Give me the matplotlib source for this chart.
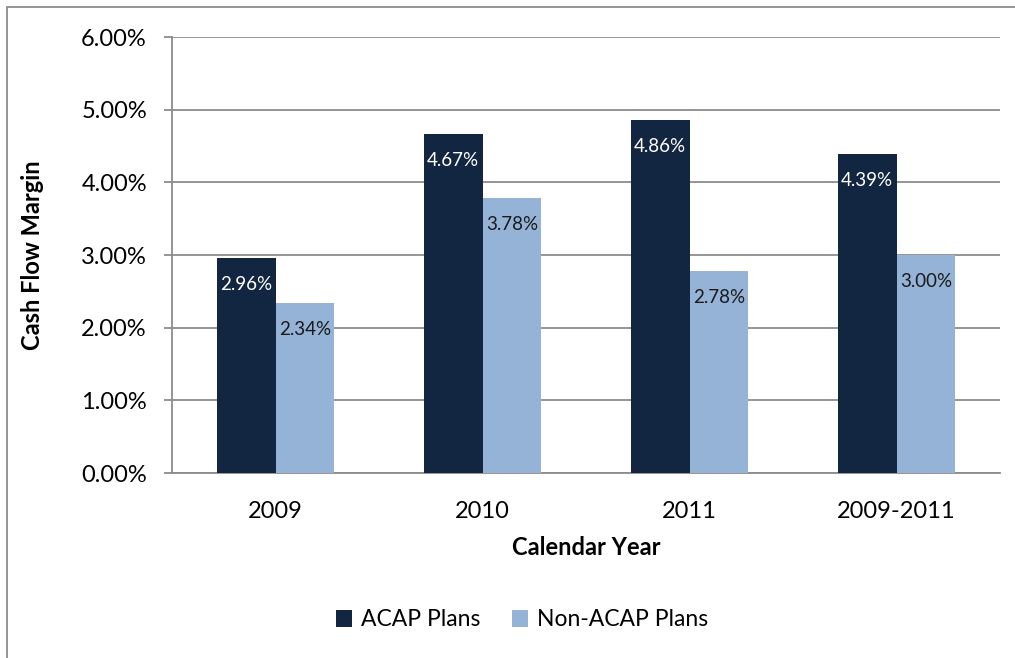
import matplotlib.pyplot as plt
from matplotlib.patches import Rectangle
import numpy as np

plt.rcParams['font.family'] = ['Lato', 'DejaVu Sans']

years = ["2009", "2010", "2011", "2009-2011"]
acap = [2.96, 4.67, 4.86, 4.39]
non_acap = [2.34, 3.78, 2.78, 3.00]
series_names = ["ACAP Plans", "Non-ACAP Plans"]
colors = ["#132641", "#95b3d7"]
label_colors = ["white", "#1a1a1a"]

fig = plt.figure(figsize=(10.15, 6.58), dpi=100)
ax = fig.add_axes([172 / 1015, 1 - 473 / 658, (1000 - 172) / 1015, (473 - 37) / 658])

# outer chart frame
fig.patches.append(Rectangle((7 / 1015, -0.1), 1.2, 1 - 7 / 658 + 0.1,
                             transform=fig.transFigure, fill=False,
                             edgecolor="#8c8c8c", linewidth=1.3))

x = np.arange(len(years))
w = 0.285
for i, (vals, c, lc) in enumerate(zip([acap, non_acap], colors, label_colors)):
    pos = x - w / 2 + i * w
    bars = ax.bar(pos, vals, width=w, color=c, label=series_names[i], zorder=3)
    for b, v in zip(bars, vals):
        ax.annotate(f"{v:.2f}%", (b.get_x() + b.get_width() / 2, v),
                    xytext=(0, -19), textcoords="offset points",
                    ha="center", va="center", color=lc, fontsize=13.5, zorder=4)

ax.set_xlim(-0.5, 3.5)
ax.set_ylim(0, 6)
ax.set_yticks(np.arange(0, 7, 1))
ax.set_yticklabels([f"{t:.2f}%" for t in range(7)])
ax.set_xticks(x)
ax.set_xticklabels(years)
ax.yaxis.grid(True, color="#8c8c8c", linewidth=1.3, zorder=0)
ax.tick_params(axis="y", length=6, width=1.3, color="#8c8c8c", labelsize=17, pad=12)
ax.tick_params(axis="x", length=0, labelsize=17, pad=20)
for s in ["top", "right"]:
    ax.spines[s].set_visible(False)
ax.spines["left"].set_color("#8c8c8c")
ax.spines["left"].set_linewidth(1.3)
ax.spines["bottom"].set_color("#8c8c8c")
ax.spines["bottom"].set_linewidth(1.3)

ax.set_ylabel("Cash Flow Margin", fontsize=17, fontweight="bold")
ax.set_xlabel("Calendar Year", fontsize=17, fontweight="bold")
ax.yaxis.set_label_coords(-0.169, 0.5)
ax.xaxis.set_label_coords(0.5, -0.172)
ax.xaxis.label.set_va("center")
ax.yaxis.label.set_va("center")

fig.legend(loc="center", bbox_to_anchor=(522 / 1015, 1 - 620 / 658), ncol=2,
           frameon=False, fontsize=16.5, handlelength=0.7, handleheight=0.7,
           columnspacing=1.4, handletextpad=0.4)

fig.savefig("out.png", dpi=100)
